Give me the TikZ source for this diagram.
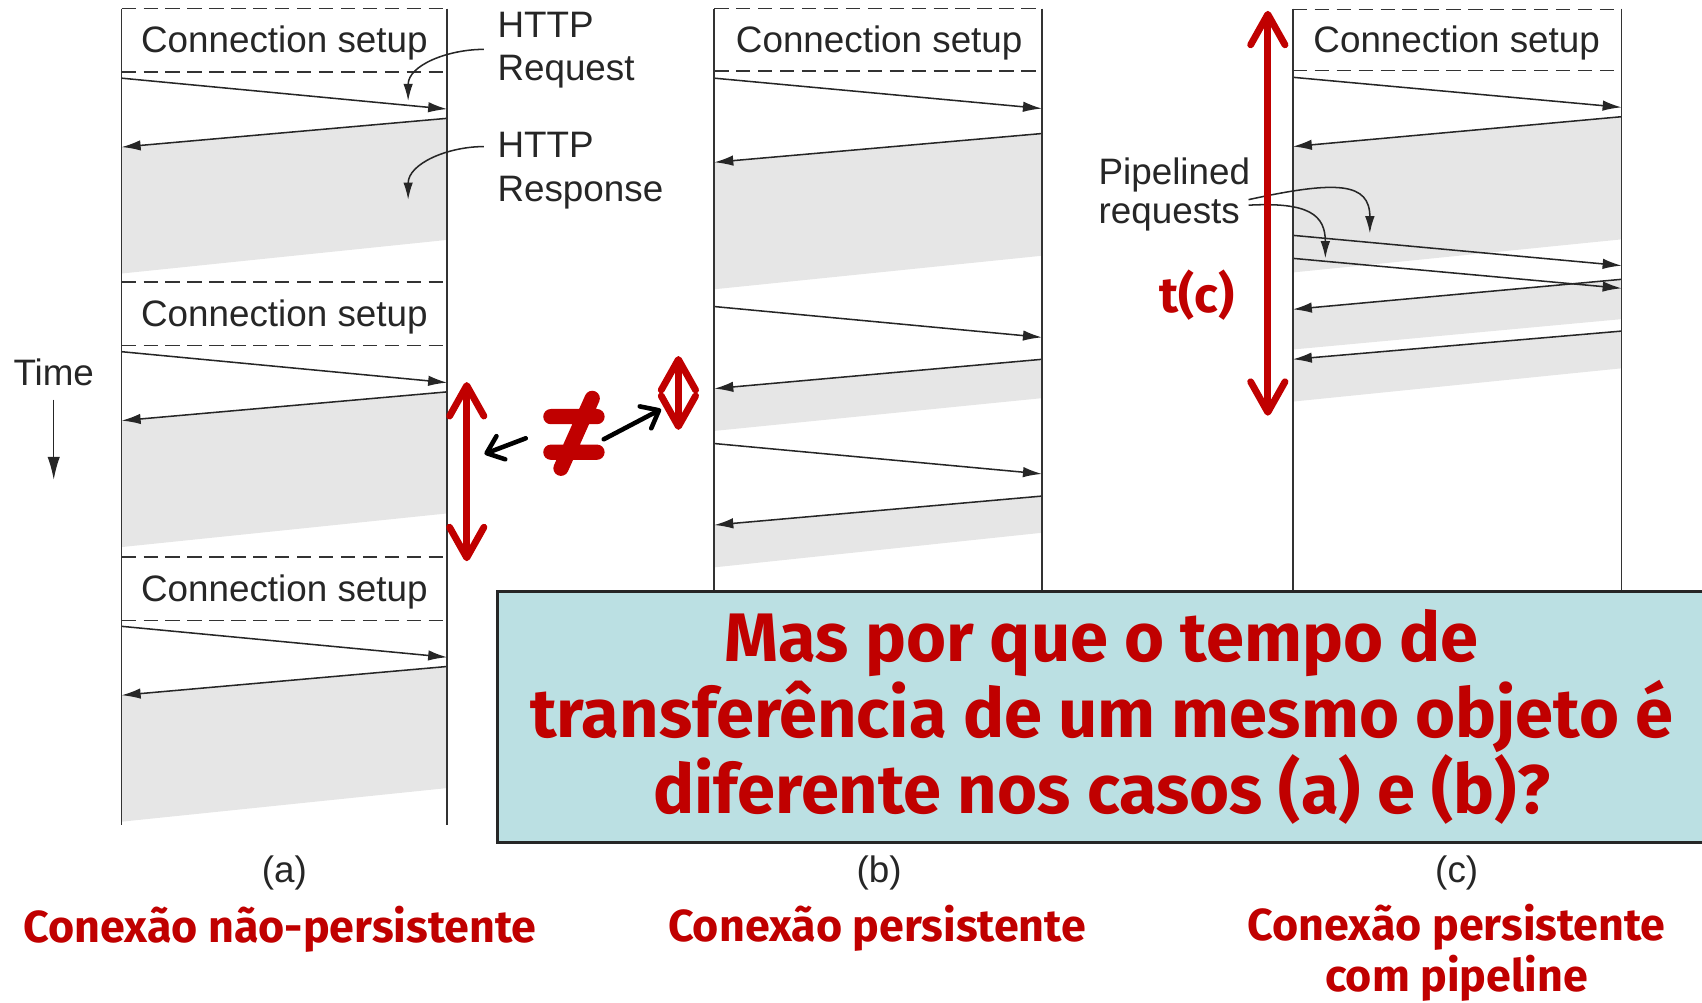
\documentclass[tikz,border=0pt]{standalone}
\usepackage{fontspec}
\setmainfont{Liberation Sans}
\newfontfamily\comicfont{Fira Sans}
\usetikzlibrary{arrows.meta,positioning}

\definecolor{darkred}{RGB}{192,0,0}
\definecolor{bandgray}{RGB}{230,230,230}
\definecolor{boxblue}{RGB}{187,224,227}

\tikzset{
    lifeline/.style={line width=0.8pt, black!80},
    sepline/.style={line width=0.8pt, black!80, dash pattern=on 7.5pt off 4pt},
    msg/.style={line width=0.8pt, black!85, -{Latex[length=10pt,width=5.5pt]}},
    callout/.style={line width=0.8pt, black!85, -{Latex[length=9pt,width=5pt]}},
    lbl/.style={font=\fontsize{19.3}{22.8}\selectfont, text=black!85, inner sep=0pt},
    bigred/.style={darkred, line width=3.6pt, line cap=round,
        {Straight Barb[length=16pt,width=18pt,round]}-{Straight Barb[length=16pt,width=18pt,round]}},
    pointer/.style={black, line width=2.4pt, line cap=round, -{Straight Barb[length=8pt,width=13pt,round]}},
    redtext/.style={text=darkred, font=\comicfont\bfseries\fontsize{23.5}{26.5}\selectfont, inner sep=0pt, align=center},
    qbox/.style={draw=black!85, line width=1.4pt, fill=boxblue, text=darkred, align=center,
        font=\comicfont\bfseries\fontsize{36}{39.8}\selectfont,
        minimum width=22.28cm, minimum height=4.62cm},
}

\begin{document}
\begin{tikzpicture}[x=0.02cm, y=-0.02cm]
    \useasboundingbox (0,0) rectangle (1568,924);

    % (a) one connection per object
    \foreach \s [count=\i] in {0,252,505} {
        \fill[bandgray] (112,135.5+\s) -- (412,109+\s) -- (412,221+\s) -- (112,252+\s) -- cycle;
        \draw[msg] (112,72+\s) -- (412,100.5+\s);
        \draw[msg] (412,109+\s) -- (112,135.5+\s);
        \draw[sepline] (112,8+\s) -- (412,8+\s);
        \draw[sepline] (112,66.5+\s) -- (412,66.5+\s);
        \node[lbl] (setupa\i) at (262,40+\s) {Connection setup};
    }
    \draw[lifeline] (112,8) -- (112,760) (412,8) -- (412,760);

    % (b) persistent
    \foreach \qa/\qb/\ra/\rb/\ga/\gb in {72/100/123/149.5/235.6/266.5,
            282.4/310.8/331/358/366.8/397, 408.6/436.6/457/483.7/490.8/522.7} {
        \fill[bandgray] (658,\rb) -- (960,\ra) -- (960,\ga) -- (658,\gb) -- cycle;
        \draw[msg] (658,\qa) -- (960,\qb);
        \draw[msg] (960,\ra) -- (658,\rb);
    }
    \draw[sepline] (658,8) -- (960,8);
    \draw[sepline] (658,65.5) -- (960,65.5);
    \node[lbl] (setupb) at (810,40) {Connection setup};
    \draw[lifeline] (658,8) -- (658,550) (960,8) -- (960,550);

    % (c) persistent with pipelining
    \foreach \ra/\rb/\ga/\gb in {107.5/135/220.5/251, 257.3/285/294/322, 305/331/339.3/370}
        \fill[bandgray] (1191,\rb) -- (1494,\ra) -- (1494,\ga) -- (1191,\gb) -- cycle;
    \foreach \qa/\qb in {71.2/98.9, 216.8/244.7, 238/265.6}
        \draw[msg] (1191,\qa) -- (1494,\qb);
    \foreach \ra/\rb in {107.5/135, 257.3/285, 305/331}
        \draw[msg] (1494,\ra) -- (1191,\rb);
    \draw[sepline] (1191,8.6) -- (1494,8.6);
    \draw[sepline] (1191,65) -- (1494,65);
    \node[lbl] (setupc) at (1342,40) {Connection setup};
    \draw[lifeline] (1191,8) -- (1191,550) (1494,8) -- (1494,550);

    % labels with callouts
    \node[lbl, align=left, anchor=west] (httpreq) at (458,46) {HTTP\\Request};
    \node[lbl, align=left, anchor=west] (httpresp) at (458,157) {HTTP\\Response};
    \coordinate (reqtip) at (376,93);
    \coordinate (resptip) at (376,184);
    \draw[callout] ([xshift=-7pt,yshift=0.3pt]httpreq.west) to[out=180,in=90] (reqtip);
    \draw[callout] ([xshift=-7pt,yshift=12.5pt]httpresp.west) to[out=180,in=90] (resptip);

    \node[lbl, align=left, anchor=east, font=\fontsize{19.3}{20.5}\selectfont] (pipe) at (1152,179) {Pipelined\\requests};
    \coordinate (pipetipa) at (1262,215);
    \coordinate (pipetipb) at (1221,238);
    \draw[callout] ([xshift=-1pt,yshift=-2.8pt]pipe.east) .. controls (1232,166) and (1262,168) .. (pipetipa);
    \draw[callout] ([xshift=-1pt,yshift=-5.7pt]pipe.east) .. controls (1206,186) and (1221,198) .. (pipetipb);

    \node[lbl] (time) at (49.5,343) {Time};
    \coordinate (timeend) at (49.5,442);
    \draw[line width=0.8pt, black!85, -{Latex[length=12pt,width=6.5pt]}] ([yshift=-7pt]time.south) -- (timeend);

    % durations
    \coordinate (atop) at (430,352);
    \coordinate (abot) at (430,517);
    \coordinate (btop) at (625,328);
    \coordinate (bbot) at (625,396);
    \coordinate (ctop) at (1168,10);
    \coordinate (cbot) at (1168,383);
    \draw[bigred] (atop) -- (abot);
    \draw[bigred] (btop) -- (bbot);
    \draw[bigred] (ctop) -- (cbot);
    \node[redtext, font=\comicfont\bfseries\fontsize{26}{30}\selectfont] (tc) at (1103,272) {t(c)};

    % not equal
    \draw[darkred, line width=8pt, line cap=round]
        (507.5,383.8) -- (550,383.8) (507.5,416.6) -- (550,416.6) (545.6,367) -- (516.8,431.4);
    \coordinate (neqleft) at (484.3,403.8);
    \coordinate (neqright) at (556.2,404.7);
    \coordinate (aside) at (446.3,418.2);
    \coordinate (bside) at (609,377);
    \draw[pointer] (neqleft) -- (aside);
    \draw[pointer] (neqright) -- (bside);

    % question
    \node[qbox] (question) at (1015,660.5)
        {Mas por que o tempo de\\transferência de um mesmo objeto é\\diferente nos casos (a) e (b)?};

    % captions
    \node[lbl] (capa) at (262,804) {(a)};
    \node[lbl] (capb) at (810,804) {(b)};
    \node[lbl] (capc) at (1342,804) {(c)};
    \node[redtext] (typea) at (258,856) {Conexão não-persistente};
    \node[redtext] (typeb) at (808,855) {Conexão persistente};
    \node[redtext] (typec) at (1342,878) {Conexão persistente\\com pipeline};
\end{tikzpicture}
\end{document}
